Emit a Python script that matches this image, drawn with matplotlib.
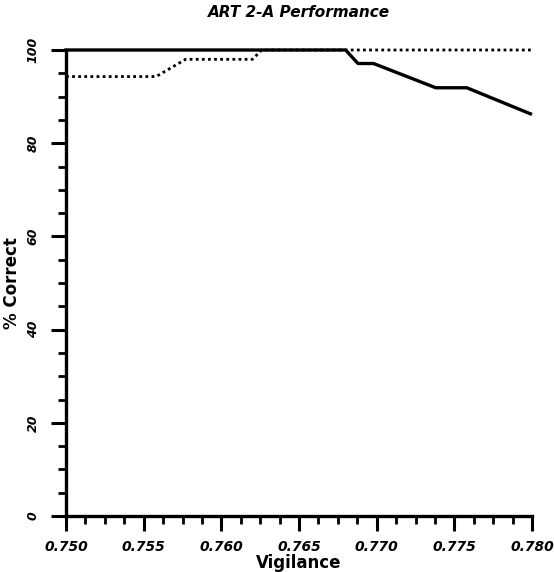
import numpy as np
import matplotlib
matplotlib.use('Agg')
import matplotlib.pyplot as plt
from matplotlib.ticker import MultipleLocator, FormatStrFormatter

# values
vig_solid = [0.7500, 0.7680, 0.7688, 0.7698, 0.7738, 0.7758, 0.7799]
pct_solid = [100.0, 100.0, 97.1, 97.1, 91.9, 91.9, 86.3]

vig_dotted = [0.7500, 0.7558, 0.7577, 0.7620, 0.7626, 0.7800]
pct_dotted = [94.3, 94.3, 98.0, 98.0, 100.0, 100.0]

x_ticks = [0.750, 0.755, 0.760, 0.765, 0.770, 0.775, 0.780]
y_ticks = [0, 20, 40, 60, 80, 100]

fig = plt.figure(figsize=(5.54, 5.72), dpi=100)
ax = fig.add_axes([66 / 554, 1 - 516 / 572, 466 / 554, 466 / 572])

ax.plot(vig_solid, pct_solid, color='black', lw=2.4, solid_joinstyle='round',
        zorder=3, clip_on=False)
ax.plot(vig_dotted, pct_dotted, color='black', lw=2.0, linestyle=(0, (1, 1.2)),
        zorder=2, clip_on=False)

ax.set_xlim(0.750, 0.780)
ax.set_ylim(0, 100)

ax.spines['top'].set_visible(False)
ax.spines['right'].set_visible(False)
for s in ['left', 'bottom']:
    ax.spines[s].set_linewidth(2.4)

ax.set_xticks(x_ticks)
ax.xaxis.set_minor_locator(MultipleLocator(0.00125))
ax.set_yticks(y_ticks)
ax.yaxis.set_minor_locator(MultipleLocator(5))
ax.xaxis.set_major_formatter(FormatStrFormatter('%.3f'))

ax.tick_params(axis='both', which='major', direction='out', length=11, width=2.2, pad=6)
ax.tick_params(axis='both', which='minor', direction='out', length=6, width=2.0)
ax.tick_params(axis='y', which='major', pad=8)

for lab in ax.get_xticklabels():
    lab.set_fontweight('bold')
    lab.set_fontstyle('italic')
    lab.set_fontsize(10)
for lab in ax.get_yticklabels():
    lab.set_fontweight('bold')
    lab.set_fontstyle('italic')
    lab.set_fontsize(9)
    lab.set_rotation(90)
    lab.set_va('center')

ax.set_xlabel('Vigilance', fontsize=12, fontweight='bold', labelpad=0)
ax.set_ylabel('% Correct', fontsize=12, fontweight='bold', labelpad=4)
ax.set_title('ART 2-A Performance', fontsize=11, fontweight='bold', fontstyle='italic', pad=24)

fig.savefig('out.png', dpi=100, facecolor='white')
